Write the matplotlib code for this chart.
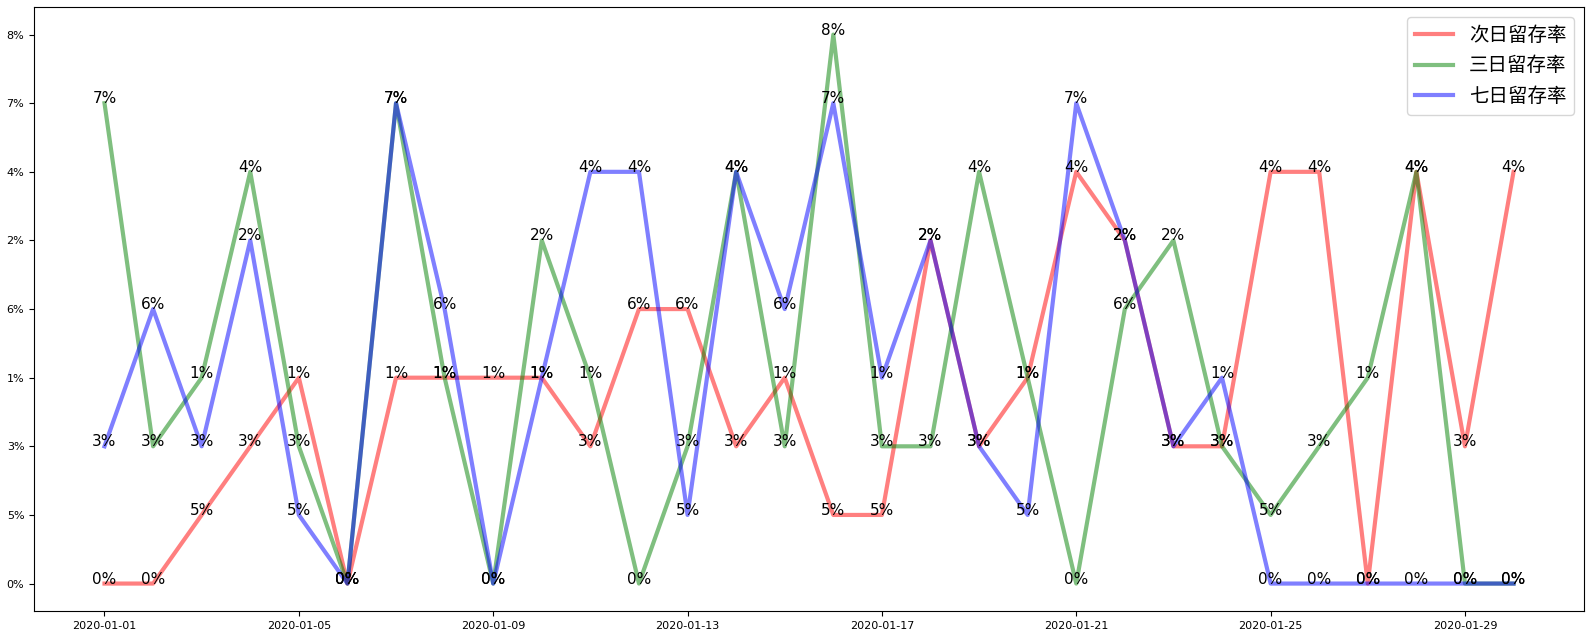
import matplotlib
matplotlib.use('Agg')
import matplotlib.pyplot as plt
import matplotlib.dates as mdates
import pandas as pd

# dates and retention values (strings -> categorical y axis)
dates = pd.date_range('2020-01-01', '2020-01-30', freq='D')
day1 = ['0%', '0%', '5%', '3%', '1%', '0%', '1%', '1%', '1%', '1%',
        '3%', '6%', '6%', '3%', '1%', '5%', '5%', '2%', '3%', '1%',
        '4%', '2%', '3%', '3%', '4%', '4%', '0%', '4%', '3%', '4%']
day3 = ['7%', '3%', '1%', '4%', '3%', '0%', '7%', '1%', '0%', '2%',
        '1%', '0%', '3%', '4%', '3%', '8%', '3%', '3%', '4%', '1%',
        '0%', '6%', '2%', '3%', '5%', '3%', '1%', '4%', '0%', '0%']
day7 = ['3%', '6%', '3%', '2%', '5%', '0%', '7%', '6%', '0%', '1%',
        '4%', '4%', '5%', '4%', '6%', '7%', '1%', '2%', '3%', '5%',
        '7%', '2%', '3%', '1%', '0%', '0%', '0%', '0%', '0%', '0%']
names = ['次日留存率', '三日留存率', '七日留存率']
colors = ['red', 'green', 'blue']

plt.rcParams['font.family'] = ['Noto Sans CJK SC', 'DejaVu Sans']

fig = plt.figure(figsize=(15.91, 6.37), dpi=100)
ax = fig.add_axes([0.0214, 0.0408, 0.9742, 0.948])

for vals, name, c in zip([day1, day3, day7], names, colors):
    ax.plot(dates, vals, color=c, alpha=0.5, linewidth=3, label=name)

# value labels at every point
for vals in [day1, day3, day7]:
    for d, v in zip(dates, vals):
        ax.text(d, ax.yaxis.convert_units(v), v, ha='center', fontsize=11,
                family='DejaVu Sans')

ax.set_xticks(dates[::4])
ax.xaxis.set_major_formatter(mdates.DateFormatter('%Y-%m-%d'))
ax.tick_params(labelsize=8)
for lab in ax.get_xticklabels() + ax.get_yticklabels():
    lab.set_family('DejaVu Sans')
ax.legend(loc='upper right', fontsize=14)

plt.savefig('out.png', dpi=100)
